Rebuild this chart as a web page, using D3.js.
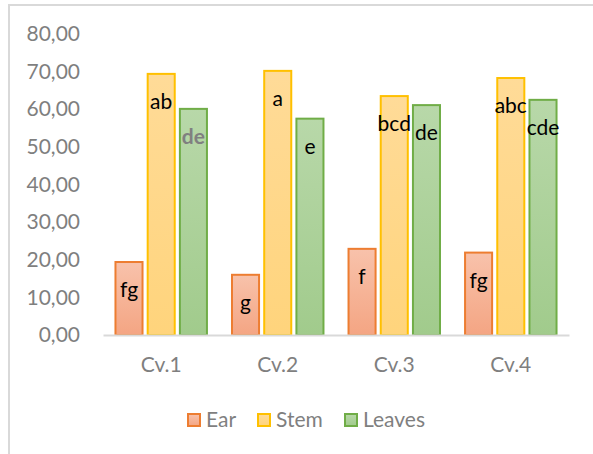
<!DOCTYPE html>
<html>
<head>
<meta charset="utf-8">
<script src="https://cdn.jsdelivr.net/npm/d3@7"></script>
<style>
  body { margin: 0; background: #fff; }
  svg { display: block; font-family: Lato, "Open Sans", sans-serif; }
</style>
</head>
<body>
<script>
// chart data
var categories = ["Cv.1", "Cv.2", "Cv.3", "Cv.4"];
var seriesNames = ["Ear", "Stem", "Leaves"];
var ear = [19.4, 16.0, 22.9, 21.9];
var stem = [69.4, 70.2, 63.5, 68.3];
var leaves = [60.1, 57.5, 61.1, 62.5];
var earLetters = ["fg", "g", "f", "fg"];
var stemLetters = ["ab", "a", "bcd", "abc"];
var leavesLetters = ["de", "e", "de", "cde"];
var yTicks = [0, 10, 20, 30, 40, 50, 60, 70, 80];

var values = [ear, stem, leaves];
var letters = [earLetters, stemLetters, leavesLetters];

// look of each series: gradient top, bottom, outline
var styles = [
  {top: "#f8c2ab", bottom: "#f4a583", stroke: "#ed7d31"},
  {top: "#ffdb98", bottom: "#ffd47c", stroke: "#ffc000"},
  {top: "#b8d8a9", bottom: "#a1cb8c", stroke: "#70ad47"}
];

var W = 593, H = 454;
var margin = {top: 34, right: 24, bottom: 119, left: 103};
var width = W - margin.left - margin.right,
    height = H - margin.top - margin.bottom;

var svg = d3.select("body").append("svg")
  .attr("width", W)
  .attr("height", H);

// chart area border (runs off the right and bottom of the picture)
svg.append("rect")
  .attr("x", 9).attr("y", 5)
  .attr("width", W + 20).attr("height", H + 20)
  .attr("fill", "none")
  .attr("stroke", "#d9d9d9")
  .attr("stroke-width", 2);

var defs = svg.append("defs");
styles.forEach(function(s, i) {
  var g = defs.append("linearGradient")
    .attr("id", "grad" + i)
    .attr("x1", 0).attr("y1", 0).attr("x2", 0).attr("y2", 1);
  g.append("stop").attr("offset", "0%").attr("stop-color", s.top);
  g.append("stop").attr("offset", "100%").attr("stop-color", s.bottom);
});

var g = svg.append("g")
  .attr("transform", "translate(" + margin.left + "," + margin.top + ")");

var x0 = d3.scaleBand().domain(categories).range([0, width]).paddingInner(0.215).paddingOuter(0.107);
var x1 = d3.scaleBand().domain(seriesNames).range([0, x0.bandwidth()]).paddingInner(0.16);
var y = d3.scaleLinear().domain([0, 80]).range([height, 0]);

// y labels (no visible axis line)
var yAxis = d3.axisLeft(y).tickValues(yTicks).tickSize(0).tickPadding(0)
  .tickFormat(function(d) { return d3.format(".2f")(d).replace(".", ","); });
var ya = g.append("g").attr("transform", "translate(-23,0)").call(yAxis);
ya.select(".domain").remove();
ya.selectAll("text")
  .attr("fill", "#7f7f7f")
  .style("font-size", "21px")
  .style("font-family", "Lato, sans-serif");

// bars
seriesNames.forEach(function(name, si) {
  var grp = g.append("g");
  grp.selectAll("rect")
    .data(values[si])
    .enter().append("rect")
    .attr("x", function(d, i) { return x0(categories[i]) + x1(name); })
    .attr("y", function(d) { return y(d); })
    .attr("width", x1.bandwidth())
    .attr("height", function(d) { return height - y(d); })
    .attr("fill", "url(#grad" + si + ")")
    .attr("stroke", styles[si].stroke)
    .attr("stroke-width", 2);

  grp.selectAll("text")
    .data(values[si])
    .enter().append("text")
    .attr("x", function(d, i) { return x0(categories[i]) + x1(name) + x1.bandwidth() / 2; })
    .attr("y", function(d) { return y(d) + 35; })
    .attr("text-anchor", "middle")
    .style("font-size", "21px")
    .attr("fill", function(d, i) { return (si == 2 && i == 0) ? "#808080" : "#000"; })
    .style("font-weight", function(d, i) { return (si == 2 && i == 0) ? "bold" : "normal"; })
    .text(function(d, i) { return letters[si][i]; });
});

// x axis
var xa = g.append("g")
  .attr("transform", "translate(0," + height + ")")
  .call(d3.axisBottom(x0).tickSize(0).tickPadding(22));
xa.select(".domain").attr("stroke", "#d9d9d9").attr("stroke-width", 2);
xa.selectAll("text")
  .attr("fill", "#7f7f7f")
  .style("font-size", "21px")
  .style("font-family", "Lato, sans-serif");

// legend
var legendX = [187, 257, 344];
var legend = svg.append("g").attr("transform", "translate(0,413)");
seriesNames.forEach(function(name, i) {
  legend.append("rect")
    .attr("x", legendX[i] + 1).attr("y", 1)
    .attr("width", 12).attr("height", 12)
    .attr("fill", "url(#grad" + i + ")")
    .attr("stroke", styles[i].stroke)
    .attr("stroke-width", 2);
  legend.append("text")
    .attr("x", legendX[i] + 19)
    .attr("y", 14)
    .attr("fill", "#7f7f7f")
    .style("font-size", "21px")
    .text(name);
});
</script>
</body>
</html>
